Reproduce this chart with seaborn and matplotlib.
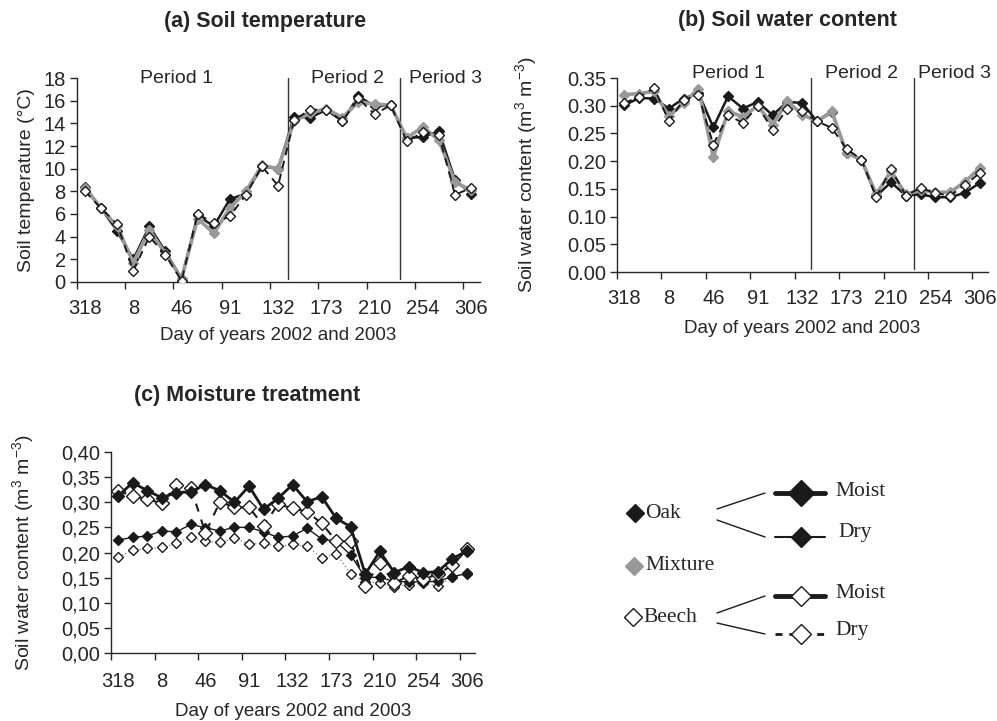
import numpy as np
import pandas as pd
import matplotlib
matplotlib.use("Agg")
import matplotlib.pyplot as plt
from matplotlib.ticker import FuncFormatter
import seaborn as sns

# -----------------------------------
# Data
# -----------------------------------

day_labels = ["318", "8", "46", "91", "132", "173", "210", "254", "306"]
n_dates = 25

oak_temp = [8.4, 6.5, 4.5, 2.0, 4.9, 2.7, 0.3, 5.9, 4.9, 7.3, 7.8, 10.2, 10.0,
            14.6, 14.5, 15.2, 14.2, 16.4, 15.5, 15.6, 12.7, 12.8, 13.3, 9.0, 7.8]
mix_temp = [8.3, 6.5, 4.9, 1.7, 4.6, 2.5, 0.3, 5.6, 4.3, 6.5, 8.0, 10.3, 10.0,
            14.2, 14.9, 15.3, 14.5, 15.9, 15.7, 15.6, 12.7, 13.7, 12.5, 8.8, 8.1]
beech_temp = [8.0, 6.5, 5.1, 1.0, 4.0, 2.4, 0.1, 6.0, 5.2, 5.8, 7.7, 10.2, 8.5,
              14.3, 15.2, 15.2, 14.2, 16.2, 14.8, 15.6, 12.4, 13.2, 13.0, 7.7, 8.3]

oak_swc = [0.301, 0.314, 0.313, 0.295, 0.313, 0.323, 0.261, 0.317, 0.295, 0.307,
           0.283, 0.307, 0.305, 0.272, 0.288, 0.215, 0.202, 0.137, 0.162, 0.138,
           0.140, 0.135, 0.135, 0.143, 0.161]
mix_swc = [0.320, 0.322, 0.326, 0.281, 0.305, 0.331, 0.207, 0.290, 0.280, 0.300,
           0.266, 0.308, 0.284, 0.272, 0.290, 0.215, 0.203, 0.140, 0.182, 0.140,
           0.148, 0.144, 0.144, 0.163, 0.188]
beech_swc = [0.305, 0.316, 0.332, 0.272, 0.311, 0.319, 0.230, 0.283, 0.269, 0.299,
             0.257, 0.295, 0.290, 0.272, 0.260, 0.222, 0.203, 0.135, 0.186, 0.138,
             0.152, 0.142, 0.138, 0.157, 0.179]

oak_moist = [0.313, 0.339, 0.323, 0.309, 0.319, 0.321, 0.335, 0.323, 0.300, 0.332,
             0.286, 0.308, 0.335, 0.301, 0.311, 0.268, 0.251, 0.157, 0.202, 0.160,
             0.172, 0.160, 0.162, 0.188, 0.203]
beech_moist = [0.322, 0.313, 0.306, 0.298, 0.334, 0.329, 0.239, 0.301, 0.290, 0.290,
               0.253, 0.296, 0.288, 0.281, 0.258, 0.223, 0.222, 0.134, 0.179, 0.139,
               0.154, 0.147, 0.157, 0.175, 0.206]
oak_dry = [0.225, 0.230, 0.233, 0.243, 0.241, 0.256, 0.249, 0.243, 0.250, 0.250,
           0.241, 0.230, 0.233, 0.248, 0.227, 0.222, 0.195, 0.150, 0.151, 0.142,
           0.142, 0.141, 0.143, 0.152, 0.158]
beech_dry = [0.192, 0.204, 0.208, 0.210, 0.218, 0.231, 0.222, 0.220, 0.228, 0.217,
             0.218, 0.212, 0.216, 0.212, 0.190, 0.198, 0.157, 0.142, 0.139, 0.132,
             0.136, 0.140, 0.133, 0.152, 0.159]

period_bounds = [13.63, 20.55]

# -----------------------------------
# Style
# -----------------------------------

sns.set_style("ticks")
plt.rcParams["font.family"] = ["Liberation Sans", "DejaVu Sans"]
plt.rcParams["mathtext.default"] = "regular"
plt.rcParams["axes.linewidth"] = 1.0

BLACK = "#1a1a1a"
GREY = "#999999"

dates = np.arange(1, n_dates + 1)


def style_axis(ax, ymax, ystep, fmt, xpad, xlabelpad):
    ax.set_xlim(0.5, 25.55)
    ax.set_ylim(0, ymax)
    ax.set_yticks(np.round(np.arange(0, ymax + ystep / 2, ystep), 3))
    ax.yaxis.set_major_formatter(FuncFormatter(fmt))
    ax.set_xticks(np.arange(0.5, 25, 3))
    ax.set_xticklabels([])
    ax.set_xticks(np.arange(1, 26, 3), minor=True)
    ax.set_xticklabels(day_labels, minor=True)
    ax.tick_params(axis="x", which="major", direction="out", length=5, width=1)
    ax.tick_params(axis="x", which="minor", length=0, pad=xpad, labelsize=14.5)
    ax.tick_params(axis="y", direction="out", length=5, width=1, labelsize=14.5, pad=3)
    sns.despine(ax=ax)
    ax.set_xlabel("Day of years 2002 and 2003", fontsize=13.5, labelpad=xlabelpad)


def draw(ax, y, color, lw, ls, ms, face, edge, z):
    sns.lineplot(x=dates, y=y, ax=ax, color=color, linewidth=lw, linestyle=ls,
                 marker="D", markersize=ms, markerfacecolor=face,
                 markeredgecolor=edge, markeredgewidth=1.0, zorder=z)


fig = plt.figure(figsize=(9.97, 7.21), dpi=100)

# -----------------------------------
# (a) Soil temperature
# -----------------------------------

ax_a = fig.add_axes([0.0772, 0.6089, 0.4042, 0.2829])
draw(ax_a, oak_temp, BLACK, 1.8, "-", 5, BLACK, BLACK, 3)
draw(ax_a, mix_temp, GREY, 2.6, "-", 5, GREY, GREY, 4)
draw(ax_a, beech_temp, BLACK, 1.4, (0, (4, 3)), 5, "white", BLACK, 5)
style_axis(ax_a, 18, 2, lambda v, p: f"{v:.0f}", 12, 7)
ax_a.set_ylabel("Soil temperature (°C)", fontsize=14, labelpad=6)
for xb in period_bounds:
    ax_a.axvline(xb, ymin=0.015, ymax=1, color="#333333", lw=1)
for xp, txt in zip([6.7, 17.3, 23.4], ["Period 1", "Period 2", "Period 3"]):
    ax_a.text(xp, 1.0, txt, transform=ax_a.get_xaxis_transform(),
              ha="center", va="center", fontsize=14)
fig.text(0.266, 0.970, "(a) Soil temperature", ha="center", va="center",
         fontsize=15.5, fontweight="bold")

# -----------------------------------
# (b) Soil water content
# -----------------------------------

ax_b = fig.add_axes([0.6189, 0.6227, 0.3721, 0.2691])
draw(ax_b, oak_swc, BLACK, 1.8, "-", 5, BLACK, BLACK, 3)
draw(ax_b, mix_swc, GREY, 2.6, "-", 5, GREY, GREY, 4)
draw(ax_b, beech_swc, BLACK, 1.4, (0, (4, 3)), 5, "white", BLACK, 5)
style_axis(ax_b, 0.35, 0.05, lambda v, p: f"{v:.2f}", 12, 9)
ax_b.set_ylabel("Soil water content (m$^{3}$ m$^{-3}$)", fontsize=14, labelpad=20)
for xb in period_bounds:
    ax_b.axvline(xb, ymin=0.015, ymax=1, color="#333333", lw=1)
for xp, txt in zip([8.0, 17.0, 23.3], ["Period 1", "Period 2", "Period 3"]):
    ax_b.text(xp, 1.025, txt, transform=ax_b.get_xaxis_transform(),
              ha="center", va="center", fontsize=14)
fig.text(0.790, 0.972, "(b) Soil water content", ha="center", va="center",
         fontsize=15.5, fontweight="bold")

# -----------------------------------
# (c) Moisture treatment
# -----------------------------------

ax_c = fig.add_axes([0.1113, 0.0943, 0.3651, 0.2788])
draw(ax_c, beech_dry, "#777777", 0.9, (0, (1, 2)), 5, "white", BLACK, 3)
draw(ax_c, oak_dry, BLACK, 1.0, "-", 5.5, BLACK, BLACK, 4)
draw(ax_c, beech_moist, BLACK, 1.5, (0, (4, 4)), 7, "white", BLACK, 5)
draw(ax_c, oak_moist, BLACK, 2.0, "-", 6.5, BLACK, BLACK, 6)
style_axis(ax_c, 0.40, 0.05, lambda v, p: f"{v:.2f}".replace(".", ","), 14, 8)
ax_c.set_ylabel("Soil water content (m$^{3}$ m$^{-3}$)", fontsize=14, labelpad=18)
fig.text(0.248, 0.452, "(c) Moisture treatment", ha="center", va="center",
         fontsize=15.5, fontweight="bold")

# -----------------------------------
# Legend (drawn in pixel space)
# -----------------------------------

leg = fig.add_axes([0, 0, 1, 1], zorder=-1)
leg.set_xlim(0, 997)
leg.set_ylim(721, 0)
leg.axis("off")
serif = dict(family=["Liberation Serif", "DejaVu Serif"], fontsize=15.5, va="center")

leg.plot([635], [513], marker="D", ms=9, color=BLACK, mec=BLACK)
leg.text(645, 513, "Oak", **serif)
leg.plot([634], [566], marker="D", ms=9, color=GREY, mec=GREY)
leg.text(645, 566, "Mixture", **serif)
leg.plot([633], [617], marker="D", ms=9, mfc="white", mec=BLACK, mew=1)
leg.text(643, 617, "Beech", **serif)

for y0, y1 in [(509, 493), (520, 537), (613, 596), (623, 634)]:
    leg.plot([717, 765], [y0, y1], color=BLACK, lw=1)

leg.plot([775, 825], [493, 493], color=BLACK, lw=3.5)
leg.plot([801], [493], marker="D", ms=13, color=BLACK, mec=BLACK)
leg.text(835, 492, "Moist", **serif)
leg.plot([775, 825], [537, 537], color=BLACK, lw=1.5)
leg.plot([801], [537], marker="D", ms=10, color=BLACK, mec=BLACK)
leg.text(838, 533, "Dry", **serif)
leg.plot([775, 825], [596, 596], color=BLACK, lw=3.5)
leg.plot([801], [596], marker="D", ms=10, mfc="white", mec=BLACK, mew=1)
leg.text(835, 593, "Moist", **serif)
leg.plot([775, 825], [634, 634], color=BLACK, lw=2, ls=(0, (2.5, 2.5)))
leg.plot([801], [634], marker="D", ms=10, mfc="white", mec=BLACK, mew=1)
leg.text(835, 630, "Dry", **serif)

fig.savefig("out.png", dpi=100)
